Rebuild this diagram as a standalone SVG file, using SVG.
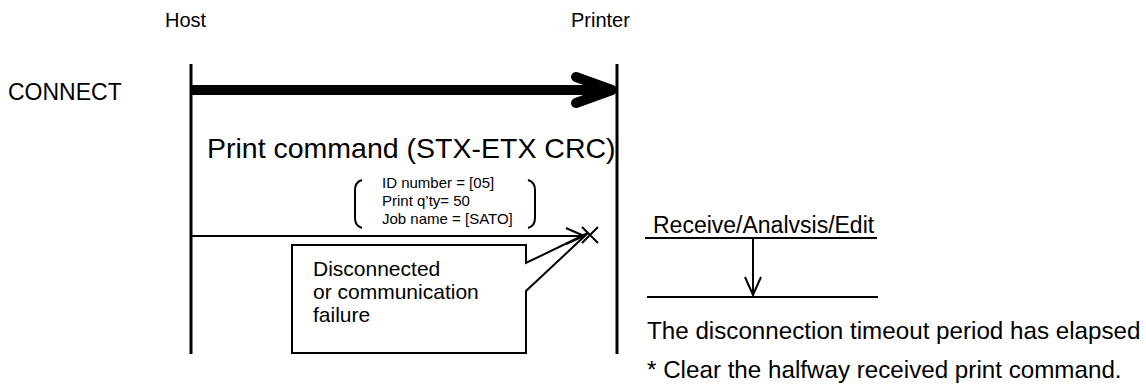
<svg xmlns="http://www.w3.org/2000/svg" width="1146" height="387" viewBox="0 0 1146 387">
<style>
text{font-family:"Liberation Sans",Arial,sans-serif;fill:#000}
.lbl{font-size:20px}
.ln{stroke:#000;fill:none;stroke-width:2}
.life{stroke:#000;stroke-width:3}
</style>
<defs>
<marker id="open" viewBox="0 0 20 20" refX="19" refY="10" markerWidth="20" markerHeight="20" markerUnits="userSpaceOnUse" orient="auto">
<path d="M1,2 L19,10 L1,18" fill="none" stroke="#000" stroke-width="2"/>
</marker>
</defs>
<rect width="1146" height="387" fill="#fff"/>
<g id="host">
<text class="lbl" x="165" y="27">Host</text>
<line class="life" x1="191" y1="64" x2="191" y2="354"/>
</g>
<g id="printer">
<text class="lbl" x="571" y="27">Printer</text>
<line class="life" x1="617" y1="64" x2="617" y2="354"/>
</g>
<g id="connect-label">
<text x="8" y="100" font-size="23">CONNECT</text>
</g>
<g id="print-command">
<text x="207" y="158" font-size="28.5">Print command (STX-ETX CRC)</text>
<path class="ln" d="M362,180 Q355,182 355,190 L355,218 Q355,226 362,228"/>
<path class="ln" d="M528,180 Q535,182 535,190 L535,218 Q535,226 528,228"/>
<text x="382" y="188" font-size="15">ID number = [05]</text>
<text x="382" y="206" font-size="15">Print q’ty= 50</text>
<text x="382" y="224" font-size="15">Job name = [SATO]</text>
</g>
<g id="callout">
<path d="M292,245 L526,245 L526,263 L588,233 L526,291 L526,353 L292,353 Z" fill="#fff" stroke="#000" stroke-width="2" stroke-linejoin="miter"/>
<text x="313" y="276" font-size="21">Disconnected</text>
<text x="313" y="299" font-size="21">or communication</text>
<text x="313" y="322" font-size="21">failure</text>
</g>
<g id="receive">
<text x="653" y="233" font-size="23">Receive/Analvsis/Edit</text>
<line class="ln" x1="645" y1="238" x2="877" y2="238"/>
<line class="ln" x1="647" y1="297" x2="878" y2="297"/>
</g>
<g id="timeout">
<text x="647" y="339" font-size="24.2">The disconnection timeout period has elapsed</text>
<text x="647" y="378" font-size="24.2">* Clear the halfway received print command.</text>
</g>
<g id="connectors">
<line x1="191" y1="90" x2="608" y2="90" stroke="#000" stroke-width="10"/>
<path d="M576,77 L612,90 L576,103" fill="none" stroke="#000" stroke-width="10" stroke-linecap="round" stroke-linejoin="round"/>
<line class="ln" x1="191" y1="236" x2="584" y2="236" marker-end="url(#open)"/>
<path class="ln" d="M582,227 L598,243 M598,227 L582,243"/>
<line class="ln" x1="753" y1="238" x2="753" y2="295" marker-end="url(#open)"/>
</g>
</svg>
